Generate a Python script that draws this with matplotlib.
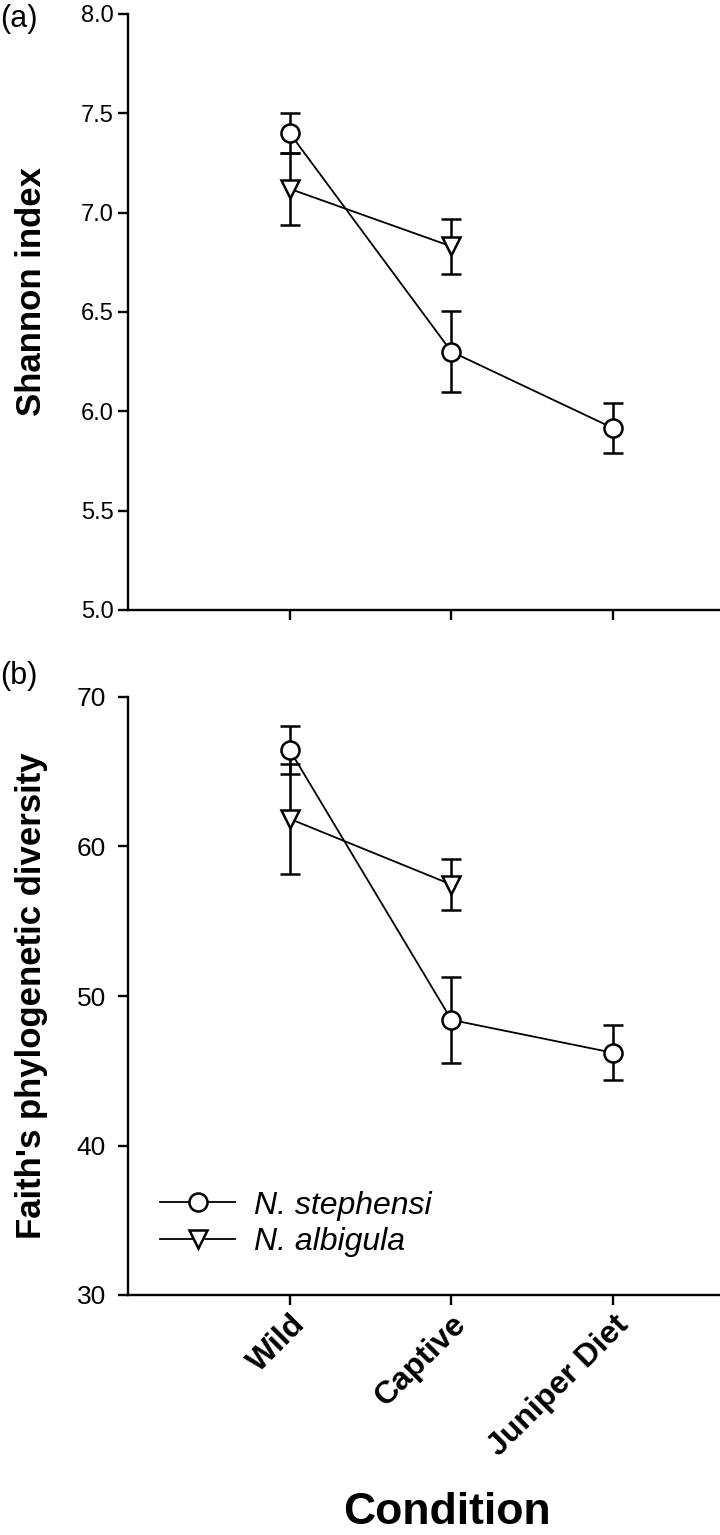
import matplotlib
matplotlib.use("Agg")
import matplotlib.pyplot as plt

conditions = ["Wild", "Captive", "Juniper Diet"]

# Shannon index (panel a)
shannon_steph = [7.40, 6.30, 5.915]
shannon_steph_err = [0.10, 0.205, 0.125]
shannon_albi = [7.12, 6.83]
shannon_albi_err = [0.18, 0.14]

# Faith's phylogenetic diversity (panel b)
faith_steph = [66.45, 48.4, 46.2]
faith_steph_err = [1.6, 2.85, 1.85]
faith_albi = [61.85, 57.45]
faith_albi_err = [3.7, 1.7]

plt.rcParams["font.family"] = ["Liberation Sans", "DejaVu Sans"]

W, H = 720, 1535
fig = plt.figure(figsize=(W / 100, H / 100), dpi=100)
ax1 = fig.add_axes([128 / W, 1 - 610 / H, (W - 128) / W, (610 - 14) / H])
ax2 = fig.add_axes([128 / W, 1 - 1295 / H, (W - 128) / W, (1295 - 697) / H])

mk = dict(markersize=13, markerfacecolor="white", markeredgecolor="black",
          markeredgewidth=1.8, color="black", linewidth=1.3)
eb = dict(fmt="none", ecolor="black", elinewidth=1.8, capsize=7, capthick=1.8)


def draw(ax, steph, steph_err, albi, albi_err):
    xs = list(range(len(steph)))
    xa = list(range(len(albi)))
    ax.errorbar(xa, albi, yerr=albi_err, zorder=2, **eb)
    ax.plot(xa, albi, marker="v", label="N. albigula", zorder=3, **mk)
    ax.errorbar(xs, steph, yerr=steph_err, zorder=4, **eb)
    ax.plot(xs, steph, marker="o", label="N. stephensi", zorder=5, **mk)
    ax.set_xlim(-1, 2.66)
    ax.set_xticks(range(len(conditions)))
    for s in ["top", "right"]:
        ax.spines[s].set_visible(False)
    for s in ["left", "bottom"]:
        ax.spines[s].set_linewidth(1.7)
    ax.tick_params(direction="out", length=7, width=1.7, colors="black")


draw(ax1, shannon_steph, shannon_steph_err, shannon_albi, shannon_albi_err)
ax1.set_ylim(5.0, 8.0)
yt1 = [5.0, 5.5, 6.0, 6.5, 7.0, 7.5, 8.0]
ax1.set_yticks(yt1)
ax1.set_yticklabels([f"{v:.1f}" for v in yt1], fontsize=17)
ax1.set_xticklabels([])
ax1.set_ylabel("Shannon index", fontsize=25, fontweight="bold", va="center")
ax1.yaxis.set_label_coords(-0.163, 0.534)

draw(ax2, faith_steph, faith_steph_err, faith_albi, faith_albi_err)
ax2.set_ylim(30, 70)
yt2 = [30, 40, 50, 60, 70]
ax2.set_yticks(yt2)
ax2.set_yticklabels([str(v) for v in yt2], fontsize=19)
ax2.tick_params(axis="y", pad=9)
ax2.set_xticklabels(conditions, rotation=45, ha="right", va="top",
                    rotation_mode="anchor", fontsize=23, fontweight="bold")
ax2.set_ylabel("Faith's phylogenetic diversity", fontsize=25,
               fontweight="bold", va="center")
ax2.yaxis.set_label_coords(-0.163, 0.5)

handles, labels = ax2.get_legend_handles_labels()
ax2.legend(handles[::-1], labels[::-1], loc="center left",
           bbox_to_anchor=(0.054, 0.119), frameon=False,
           handlelength=2.35, handletextpad=0.6, labelspacing=0.2,
           borderpad=0, borderaxespad=0,
           prop={"style": "italic", "size": 23})

fig.text(0.0, 1 - 19 / H, "(a)", fontsize=22, va="center", ha="left")
fig.text(0.0, 1 - 676 / H, "(b)", fontsize=22, va="center", ha="left")
fig.text(447 / W, 1 - 1512 / H, "Condition", fontsize=32, fontweight="bold",
         ha="center", va="center")

fig.savefig("out.png", dpi=100)
